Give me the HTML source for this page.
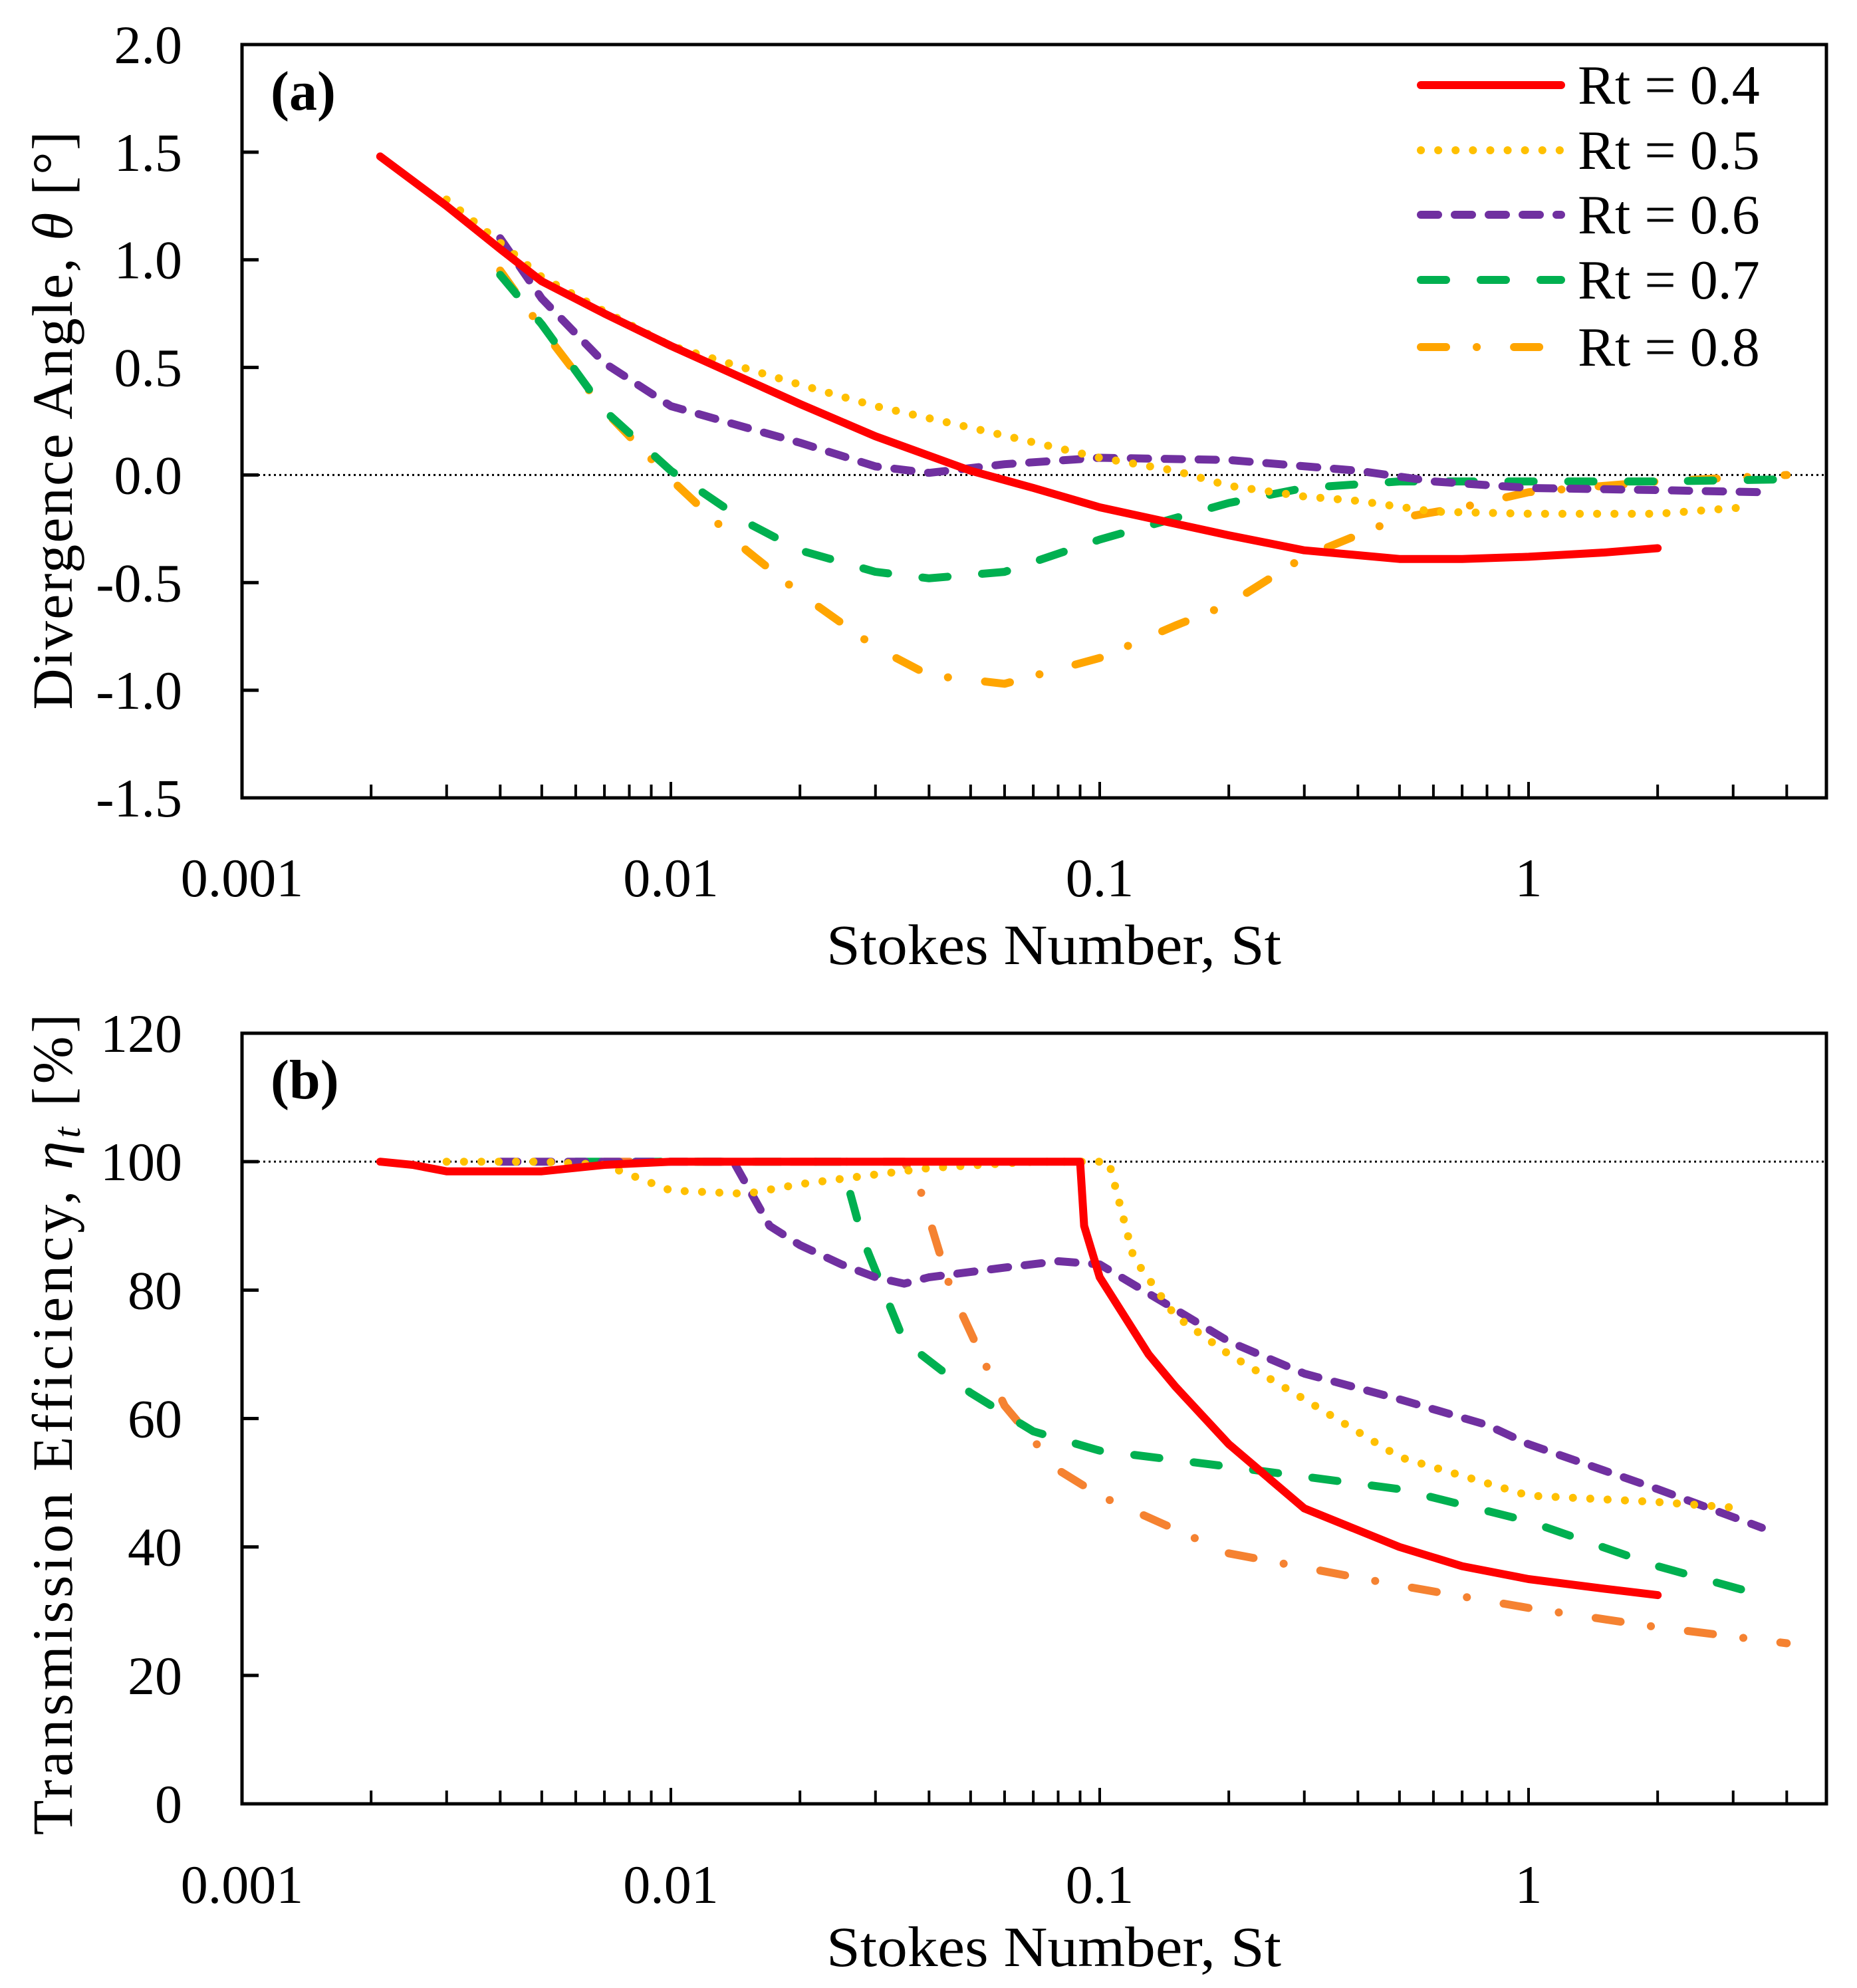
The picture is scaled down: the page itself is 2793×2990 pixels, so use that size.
<!DOCTYPE html>
<html><head><meta charset="utf-8"><style>
html,body{margin:0;padding:0;background:#fff;}
svg{display:block;}
text{font-family:"Liberation Serif",serif;fill:#000;}
</style></head><body>
<svg id="chart" width="2793" height="2990" viewBox="0 0 2793 2990" xmlns="http://www.w3.org/2000/svg">
<g id="pa"></g>
<g id="pb"></g>
</svg>
<script>
const seriesNames = ["Rt = 0.4","Rt = 0.5","Rt = 0.6","Rt = 0.7","Rt = 0.8"];
const xTickLabels = ["0.001","0.01","0.1","1"];
const xTickValues = [0.001,0.01,0.1,1];
const aTickValues = [2.0,1.5,1.0,0.5,0.0,-0.5,-1.0,-1.5];
const aTickLabels = ["2.0","1.5","1.0","0.5","0.0","-0.5","-1.0","-1.5"];
const bTickValues = [120,100,80,60,40,20,0];
const bTickLabels = ["120","100","80","60","40","20","0"];

// Panel (a) divergence angle
const a04x=[0.0021,0.003,0.004,0.005,0.007,0.01,0.02,0.03,0.05,0.07,0.1,0.2,0.3,0.5,0.7,1,1.5,2];
const a04y=[1.48,1.25,1.05,0.9,0.75,0.6,0.33,0.18,0.02,-0.06,-0.15,-0.28,-0.35,-0.39,-0.39,-0.38,-0.36,-0.34];
const a05x=[0.003,0.004,0.005,0.007,0.01,0.02,0.03,0.05,0.1,0.15,0.2,0.3,0.4,0.6,1,2,3.2];
const a05y=[1.28,1.08,0.92,0.76,0.6,0.42,0.32,0.22,0.08,0.02,-0.05,-0.1,-0.12,-0.17,-0.18,-0.18,-0.15];
const a06x=[0.004,0.005,0.007,0.01,0.015,0.02,0.03,0.04,0.06,0.1,0.2,0.4,0.6,1,2,3.5];
const a06y=[1.1,0.82,0.52,0.32,0.22,0.15,0.04,0.01,0.05,0.08,0.07,0.02,-0.03,-0.06,-0.07,-0.08];
const a07x=[0.004,0.005,0.007,0.01,0.015,0.02,0.03,0.04,0.06,0.1,0.15,0.2,0.3,0.5,1,2,4];
const a07y=[0.93,0.7,0.3,0.02,-0.22,-0.35,-0.45,-0.48,-0.45,-0.3,-0.2,-0.13,-0.06,-0.03,-0.03,-0.03,-0.02];
const a08x=[0.004,0.005,0.007,0.01,0.015,0.02,0.03,0.04,0.06,0.1,0.15,0.2,0.3,0.5,0.7,1,2,4];
const a08y=[0.95,0.68,0.3,-0.02,-0.35,-0.55,-0.8,-0.93,-0.97,-0.85,-0.7,-0.6,-0.38,-0.2,-0.15,-0.08,-0.03,0.0];

// Panel (b) transmission efficiency
const b04x=[0.0021,0.0025,0.003,0.004,0.005,0.007,0.01,0.02,0.05,0.09,0.092,0.1,0.13,0.15,0.2,0.3,0.5,0.7,1,1.5,2];
const b04y=[100,99.5,98.5,98.5,98.5,99.5,100,100,100,100,90,82,70,65,56,46,40,37,35,33.5,32.5];
const b05x=[0.003,0.005,0.007,0.01,0.015,0.02,0.03,0.04,0.07,0.105,0.12,0.15,0.2,0.3,0.5,1,2,3.2];
const b05y=[100,100,99.5,95.5,95,96.5,98,99,100,100,85,76,70,63,54,48,47,46];
const b06x=[0.004,0.01,0.014,0.017,0.02,0.025,0.03,0.035,0.04,0.06,0.08,0.1,0.15,0.2,0.3,0.5,0.8,1,2,3.5];
const b06y=[100,100,100,90,87,84,82,81,82,83.5,84.5,84,77,72,67,63,59,56,49,43];
const b07x=[0.006,0.015,0.025,0.028,0.035,0.05,0.07,0.1,0.2,0.5,1,2,3.5];
const b07y=[100,100,100,88,72,64,58,55,52.5,49,44,37,32.5];
const b08x=[0.007,0.02,0.035,0.038,0.045,0.06,0.08,0.1,0.2,0.5,1,2,4];
const b08y=[100,100,100,96,80,62,52,48,39,34,30.5,27.5,25];

const NS="http://www.w3.org/2000/svg";
function mk(tag,attrs,parent){const e=document.createElementNS(NS,tag);for(const k in attrs)e.setAttribute(k,attrs[k]);parent.appendChild(e);return e;}

const L=364,R=2747,DEC=645;
function xs(v){return L+(Math.log10(v)+3)*DEC;}

const styles=[
 {dash:null,colA:"#ff0000",colB:"#ff0000"},
 {dash:"0.1 26",colA:"#ffc000",colB:"#ffc000"},
 {dash:"26 25",colA:"#7030a0",colB:"#7030a0"},
 {dash:"38 52",colA:"#00b050",colB:"#00b050"},
 {dash:"38 46 0.1 56",colA:"#ffa500",colB:"#f58231"}
];

function panel(g,top,bot,ymin,ymax,tv,tl,ref,letter,xs_,ys_,isB,titleY,xlY,xtY){
  function ys(v){return bot-(v-ymin)/(ymax-ymin)*(bot-top);}
  const rl=mk('line',{x1:L,x2:R,y1:ys(ref),y2:ys(ref),stroke:"#000","stroke-width":3,"stroke-dasharray":"3 5"},g);
  
  
  const order=[4,3,2,1,0];
  order.forEach(i=>{
    const xv=xs_[i],yv=ys_[i];
    let d="";
    for(let k=0;k<xv.length;k++)d+=(k?"L":"M")+xs(xv[k]).toFixed(1)+","+ys(yv[k]).toFixed(1);
    const p=mk('path',{d:d,fill:"none",stroke:isB?styles[i].colB:styles[i].colA,"stroke-width":12,"stroke-linecap":"round","stroke-linejoin":"round"},g);
    if(styles[i].dash)p.setAttribute('stroke-dasharray',styles[i].dash);
    
    
  });
  const fr=mk('rect',{x:L,y:top,width:R-L,height:bot-top,fill:"none",stroke:"#000","stroke-width":5},g);
  
  
  for(let e=-3;e<=0;e++){for(let m=1;m<=9;m++){const v=m*Math.pow(10,e);const x=xs(v);if(x<L+2||x>R-2)continue;
    const t=mk('line',{x1:x,x2:x,y1:bot,y2:bot-(m===1?24:20),stroke:"#000","stroke-width":4},g);
    
    }}
  xTickValues.forEach((v,i)=>{const t=mk('text',{x:xs(v),y:xtY,"font-size":82,"text-anchor":"middle"},g);t.textContent=xTickLabels[i];
    
    });
  tv.forEach((v,i)=>{const y=ys(v);
    const tk=mk('line',{x1:L,x2:L+25,y1:y,y2:y,stroke:"#000","stroke-width":5},g);
    
    
    const t=mk('text',{x:274,y:y+28,"font-size":82,"text-anchor":"end"},g);t.textContent=tl[i];
    
    });
  const pl=mk('text',{x:407,y:top+98,"font-size":84,"font-weight":"bold"},g);pl.textContent=letter;
  
  
  const xt=mk('text',{x:1585,y:xlY,"font-size":86,"text-anchor":"middle",textLength:684,lengthAdjust:"spacingAndGlyphs"},g);xt.textContent="Stokes Number, St";
  
  
  const yt=mk('text',{x:0,y:0,"font-size":86,"text-anchor":"middle",transform:"translate(108,"+titleY+") rotate(-90)"},g);
  
  
  return yt;
}

const ga=document.getElementById('pa'),gb=document.getElementById('pb');
const yta=panel(ga,67,1200,-1.5,2.0,aTickValues,aTickLabels,0,"(a)",
  [a04x,a05x,a06x,a07x,a08x],[a04y,a05y,a06y,a07y,a08y],false,630,1450,1348);
yta.innerHTML='<tspan textLength="875" lengthAdjust="spacing">Divergence Angle, <tspan font-style="italic">θ</tspan> [°]</tspan>';
yta.setAttribute('letter-spacing','5');
const ytb=panel(gb,1554,2713,0,120,bTickValues,bTickLabels,100,"(b)",
  [b04x,b05x,b06x,b07x,b08x],[b04y,b05y,b06y,b07y,b08y],true,2140,2957,2862);
ytb.setAttribute('letter-spacing','5');
ytb.innerHTML='Transmission Efficiency, <tspan font-style="italic">η</tspan><tspan font-style="italic" font-size="58" dy="12">t</tspan><tspan dy="-12"> [%]</tspan>';

const leg=mk('g',{},ga);


const legY=[128,226,323,421,522];
seriesNames.forEach((n,i)=>{
  const ln=mk('line',{x1:2137,x2:2348,y1:legY[i],y2:legY[i],stroke:styles[i].colA,"stroke-width":12,"stroke-linecap":"round"},leg);
  if(styles[i].dash)ln.setAttribute('stroke-dasharray',styles[i].dash);
  
  
  const t=mk('text',{x:2373,y:legY[i]+28,"font-size":84},leg);t.textContent=n;
  
  
});
</script>
</body></html>
